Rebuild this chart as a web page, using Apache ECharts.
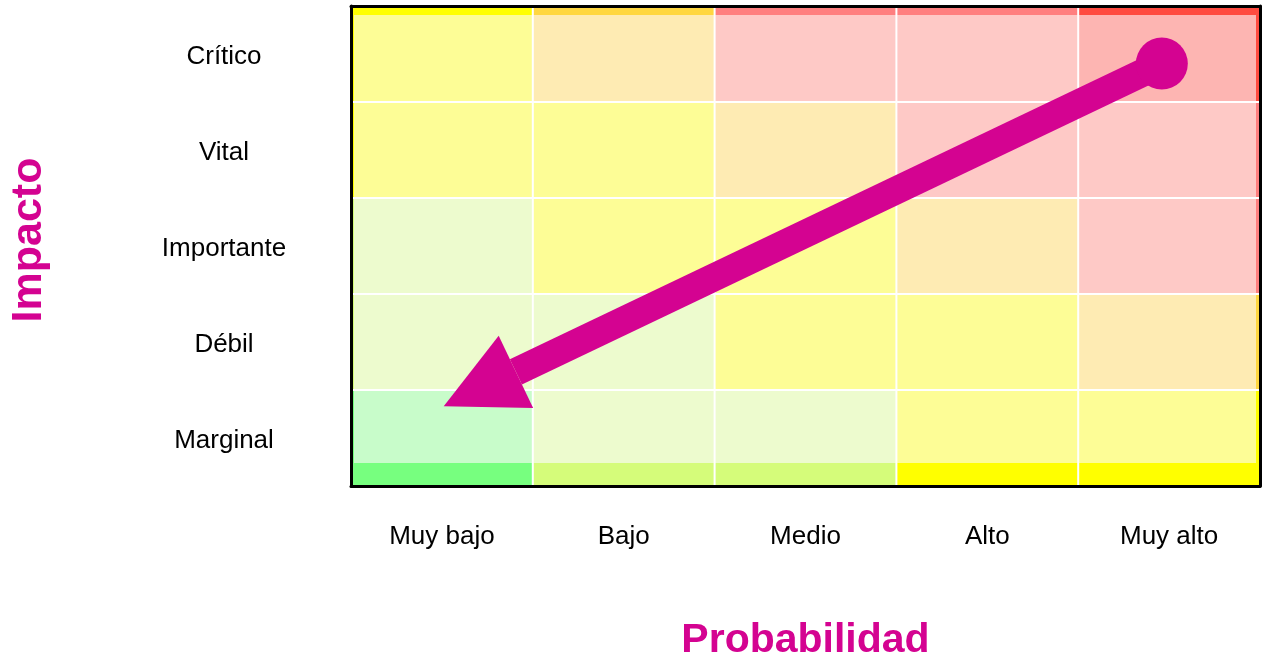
<!DOCTYPE html>
<html>
<head>
<meta charset="utf-8">
<script src="https://cdn.jsdelivr.net/npm/echarts@6/dist/echarts.min.js"></script>
<style>
html,body{margin:0;padding:0;background:#fff;}
#chart{width:1264px;height:663px;}
</style>
</head>
<body>
<div id="chart"></div>
<script>
// ---- data ----
const probabilityLabels = ['Muy bajo', 'Bajo', 'Medio', 'Alto', 'Muy alto'];
const impactLabels = ['Marginal', 'Débil', 'Importante', 'Vital', 'Crítico']; // bottom -> top
// risk level per cell, rows bottom (Marginal) -> top (Crítico), columns Muy bajo -> Muy alto
const riskMarginal   = [1, 2, 2, 3, 3];
const riskDebil      = [2, 2, 3, 3, 4];
const riskImportante = [2, 3, 3, 4, 5];
const riskVital      = [3, 3, 4, 5, 5];
const riskCritico    = [3, 4, 5, 5, 6];
// arrow (value coordinates over the 5x5 matrix)
const arrowStart = [4.46, 4.40];
const arrowEnd   = [0.51, 0.83];

// ---- styles ----
const strongColors = {1:'#77FF7F', 2:'#D5FC7A', 3:'#FFFF00', 4:'#FFD740', 5:'#FF7F7F', 6:'#FF4B40'};
const softColors   = {1:'#C8FCCA', 2:'#EDFBCE', 3:'#FDFD96', 4:'#FEEBB3', 5:'#FEC9C6', 6:'#FDB5B2'};
const MAGENTA = '#D40391';
const FONT = "'Liberation Sans', Arial, sans-serif";

const rows = [riskMarginal, riskDebil, riskImportante, riskVital, riskCritico];
const cellData = [];
rows.forEach((row, yi) => row.forEach((lvl, xi) => cellData.push([xi, yi, lvl])));

const chart = echarts.init(document.getElementById('chart'));

function renderCell(params, api) {
  const xi = api.value(0), yi = api.value(1), lvl = api.value(2);
  const c = api.coord([xi, yi]);
  const sz = api.size([1, 1]);
  const w = sz[0], h = sz[1];
  const x0 = c[0] - w / 2, y0 = c[1] - h / 2;
  const inL = xi === 0 ? 3 : 0;
  const inR = xi === 4 ? 4 : 0;
  const inT = yi === 4 ? 9 : 0;
  const inB = yi === 0 ? 23 : 0;
  const children = [
    {type:'rect', shape:{x:x0, y:y0, width:w, height:h}, style:{fill:strongColors[lvl]}, z2:1},
    {type:'rect', shape:{x:x0+inL, y:y0+inT, width:w-inL-inR, height:h-inT-inB}, style:{fill:softColors[lvl]}, z2:2}
  ];
  if (xi < 4) children.push({type:'line', shape:{x1:x0+w, y1:y0, x2:x0+w, y2:y0+h}, style:{stroke:'#fff', lineWidth:2}, z2:50});
  if (yi < 4) children.push({type:'line', shape:{x1:x0, y1:y0, x2:x0+w, y2:y0}, style:{stroke:'#fff', lineWidth:2}, z2:50});
  return {type:'group', children};
}

function renderArrow(params, api) {
  const s = api.coord([api.value(0), api.value(1)]);
  const e = api.coord([api.value(2), api.value(3)]);
  const dx = e[0] - s[0], dy = e[1] - s[1];
  const len = Math.sqrt(dx*dx + dy*dy);
  const ux = dx/len, uy = dy/len;
  const px = -uy, py = ux;
  const headLen = 80, headHalf = 40, shaftHalf = 14, r = 26;
  const bx = e[0] - ux*headLen, by = e[1] - uy*headLen;
  return {type:'group', children:[
    {type:'polygon', shape:{points:[
      [s[0]+px*shaftHalf, s[1]+py*shaftHalf],
      [bx+px*shaftHalf, by+py*shaftHalf],
      [bx-px*shaftHalf, by-py*shaftHalf],
      [s[0]-px*shaftHalf, s[1]-py*shaftHalf]
    ]}, style:{fill:MAGENTA}},
    {type:'polygon', shape:{points:[
      [e[0], e[1]],
      [bx+px*headHalf, by+py*headHalf],
      [bx-px*headHalf, by-py*headHalf]
    ]}, style:{fill:MAGENTA}},
    {type:'circle', shape:{cx:s[0], cy:s[1], r:r}, style:{fill:MAGENTA}}
  ]};
}

const blackLine = {show:true, onZero:false, lineStyle:{color:'#000', width:3}};

chart.setOption({
  animation: false,
  backgroundColor: '#fff',
  grid: {left: 351, top: 6, width: 909, height: 480, outerBoundsMode: 'none', containLabel: false},
  xAxis: [
    {type:'category', data: probabilityLabels, position:'bottom', z:10,
     axisLine: blackLine, axisTick:{show:false}, splitLine:{show:false},
     axisLabel:{color:'#000', fontSize:26, fontFamily:FONT, margin:38},
     name:'Probabilidad', nameLocation:'middle', nameGap:134,
     nameTextStyle:{color:MAGENTA, fontSize:41, fontWeight:'bold', fontFamily:FONT}},
    {type:'value', min:0, max:5, position:'top', z:10,
     axisLine: blackLine, axisTick:{show:false}, axisLabel:{show:false}, splitLine:{show:false}}
  ],
  yAxis: [
    {type:'category', data: impactLabels, position:'left', z:10,
     axisLine: blackLine, axisTick:{show:false}, splitLine:{show:false},
     axisLabel:{color:'#000', fontSize:26, fontFamily:FONT, margin:127, align:'center',
       formatter: v => '{a|' + v + '}',
       rich:{a:{color:'#000', fontSize:26, fontFamily:FONT, padding:[6,0,0,0]}}},
     name:'Impacto', nameLocation:'middle', nameGap:300,
     nameTextStyle:{color:MAGENTA, fontSize:43, fontWeight:'bold', fontFamily:FONT, padding:[0,0,0,12]}},
    {type:'value', min:0, max:5, position:'right', z:10,
     axisLine: blackLine, axisTick:{show:false}, axisLabel:{show:false}, splitLine:{show:false}}
  ],
  series: [
    {type:'custom', xAxisIndex:0, yAxisIndex:0, renderItem: renderCell, data: cellData, z:1, silent:true},
    {type:'custom', xAxisIndex:1, yAxisIndex:1, renderItem: renderArrow,
     data: [[arrowStart[0], arrowStart[1], arrowEnd[0], arrowEnd[1]]], z:5, silent:true, clip:false}
  ]
});
</script>
</body>
</html>
